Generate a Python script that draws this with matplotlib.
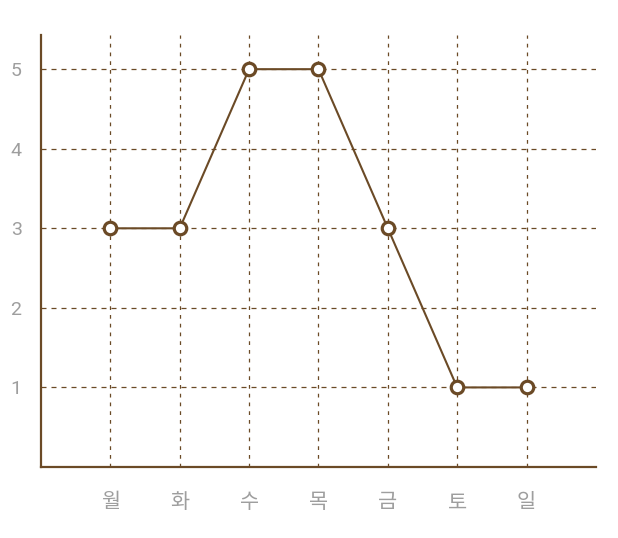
import matplotlib.pyplot as plt

plt.rcParams['font.family'] = ['Roboto', 'Noto Sans CJK KR', 'DejaVu Sans']

days = ['월', '화', '수', '목', '금', '토', '일']
values = [3, 3, 5, 5, 3, 1, 1]

brown = '#6b4a26'
grid_c = '#6b4a26'
label_c = '#9e9e9e'

fig = plt.figure(figsize=(6.18, 5.38), dpi=100)
ax = fig.add_axes([0.0663, 0.132, 0.898, 0.803])

x = list(range(len(days)))
ax.plot(x, values, color=brown, lw=1.5, marker='o', ms=9,
        mfc='white', mec=brown, mew=2.3, zorder=3)

ax.set_xlim(-1, 7)
ax.set_ylim(0, 5.43)
ax.set_xticks(x)
ax.set_xticklabels(days)
ax.set_yticks([1, 2, 3, 4, 5])

for v in [1, 2, 3, 4, 5]:
    ax.axhline(v, color=grid_c, lw=0.9, ls=(0, (4, 4)), zorder=1)
for i in x:
    ax.axvline(i, color=grid_c, lw=0.9, ls=(0, (3, 4)), zorder=1)

for s in ['top', 'right']:
    ax.spines[s].set_visible(False)
for s in ['left', 'bottom']:
    ax.spines[s].set_color(brown)
    ax.spines[s].set_linewidth(1.6)

ax.tick_params(axis='both', length=0, colors=label_c, labelsize=14)
ax.tick_params(axis='y', pad=14)
ax.tick_params(axis='x', pad=19, labelsize=15)

plt.savefig('out.png', dpi=100)
